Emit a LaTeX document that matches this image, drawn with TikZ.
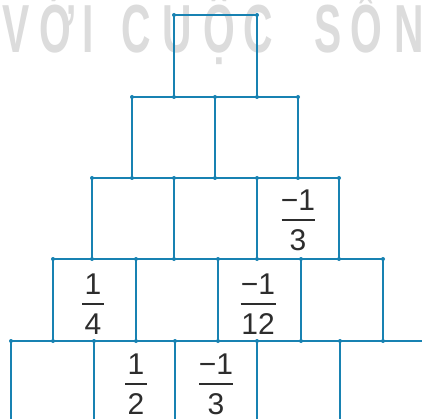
\documentclass[tikz,border=0pt]{standalone}
\usepackage{fontspec}
\usepackage{graphicx}
\setmainfont{Liberation Sans}
\definecolor{pblue}{RGB}{24,130,178}
\definecolor{wmgray}{RGB}{220,220,220}
\definecolor{digit}{RGB}{45,45,45}
\tikzset{
  grid/.style={draw=pblue, line width=2.6pt, line cap=butt},
  jdot/.style={circle, fill=pblue, inner sep=0pt, minimum size=4pt},
  wm/.style={text=wmgray, inner sep=0pt, anchor=base, font=\fontsize{68}{68}\selectfont\bfseries},
  numtxt/.style={text=digit, inner sep=0pt, font=\fontsize{30}{30}\selectfont},
  fbar/.style={draw=digit, line width=1.8pt}
}
% #1 name, #2 x, #3 bar y, #4 half bar width, #5 numerator, #6 denominator
\newcommand\fracat[6]{%
  \coordinate (#1) at (#2,#3);
  \path (#1) ++(0,-19.5) node[numtxt] (#1n) {#5};
  \path (#1) ++(0,20.5) node[numtxt] (#1d) {#6};
  \draw[fbar] (#1) ++(-#4,0) coordinate (#1l) -- ++(2*#4,0) coordinate (#1r);
}
\newcommand\wmchar[3]{\node[wm] (#1) at (#2,53) {\scalebox{0.6}[1]{#3}};}
\begin{document}
\begin{tikzpicture}[x=1pt,y=-1pt]
\useasboundingbox (0,0) rectangle (422,419);
\fill[white] (0,0) rectangle (422,419);
% watermark
\wmchar{w1}{16}{V}
\wmchar{w2}{57}{Ớ}
\wmchar{w3}{88}{I}
\wmchar{w4}{136}{C}
\wmchar{w5}{177}{U}
\wmchar{w6}{219}{Ộ}
\wmchar{w7}{258}{C}
\wmchar{w8}{328}{S}
\wmchar{w9}{366}{Ố}
\wmchar{w10}{409}{N}
% row 1
\draw[grid] (174,97) -- (174,15) -- (257,15) -- (257,97);
% row 2
\draw[grid] (132,97) -- (298,97);
\foreach \x in {132,215,298} \draw[grid] (\x,97) -- (\x,178);
% row 3
\draw[grid] (92,178) -- (339,178);
\foreach \x in {92,174,257,339} \draw[grid] (\x,178) -- (\x,259);
% row 4
\draw[grid] (53,259) -- (383,259);
\foreach \x in {53,136,218,301,383} \draw[grid] (\x,259) -- (\x,341);
% row 5
\draw[grid] (11,341) -- (422,341);
\foreach \x in {11,94,175,257,340} \draw[grid] (\x,341) -- (\x,425);
% junction dots
\foreach \x in {174,257} \node[jdot] at (\x,15) {};
\foreach \x in {132,174,215,257,298} \node[jdot] at (\x,97) {};
\foreach \x in {92,132,174,215,257,298,339} \node[jdot] at (\x,178) {};
\foreach \x in {53,92,136,174,218,257,301,339,383} \node[jdot] at (\x,259) {};
\foreach \x in {11,53,94,136,175,218,257,301,340,383} \node[jdot] at (\x,341) {};
% fractions
\fracat{fa}{298}{220}{16.5}{−1}{3}
\fracat{fb}{93}{304}{11}{1}{4}
\fracat{fc}{258}{304}{17.5}{−1}{12}
\fracat{fd}{136}{384}{11}{1}{2}
\fracat{fe}{216}{384}{17}{−1}{3}
\end{tikzpicture}
\end{document}
